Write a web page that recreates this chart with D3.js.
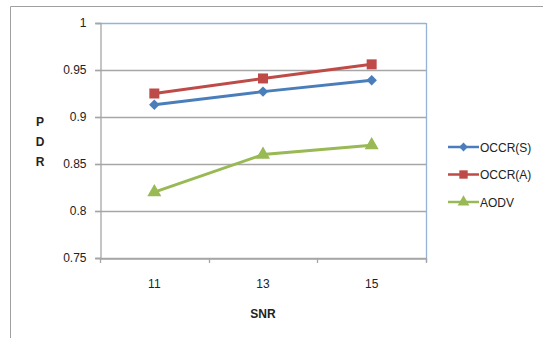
<!DOCTYPE html>
<html>
<head>
<meta charset="utf-8">
<script src="https://cdn.jsdelivr.net/npm/d3@7"></script>
<style>
  body { margin: 0; background: #fff; }
  svg { display: block; font-family: "Liberation Sans", Arial, sans-serif; }
</style>
</head>
<body>
<svg id="chart" width="543" height="338"></svg>
<script>
// data
const snr = ["11", "13", "15"];
const occrS = [0.913, 0.927, 0.939];
const occrA = [0.925, 0.941, 0.956];
const aodv = [0.82, 0.86, 0.87];
const yTicks = [0.75, 0.8, 0.85, 0.9, 0.95, 1];

const series = [
    { name: "OCCR(S)", values: occrS, color: "#4a7ebb", shape: "diamond" },
    { name: "OCCR(A)", values: occrA, color: "#be4b48", shape: "square" },
    { name: "AODV", values: aodv, color: "#98b954", shape: "triangle" }
];

// marker shape -> symbol generator, diamond drawn as a rotated square
function marker(shape, scale) {
    if (shape === "square") return { d: d3.symbol().type(d3.symbolSquare).size(100 * scale)(), rot: 0 };
    if (shape === "diamond") return { d: d3.symbol().type(d3.symbolSquare).size(55 * scale)(), rot: 45 };
    return { d: d3.symbol().type(d3.symbolTriangle).size(85 * scale)(), rot: 0 };
}

const svg = d3.select("#chart");

// outer chart frame (left + top visible)
svg.append("path")
    .attr("d", "M10.5,338 V6.5 H543")
    .attr("fill", "none")
    .attr("stroke", "#a0a0a0")
    .attr("stroke-width", 1);

const plot = { left: 100, top: 23, right: 426, bottom: 258 };

const xScale = d3.scaleBand()
    .domain(snr)
    .range([plot.left, plot.right]);

const yScale = d3.scaleLinear()
    .domain([0.75, 1])
    .range([plot.bottom, plot.top]);

// gridlines
svg.append("g")
    .selectAll("line")
    .data(yTicks)
    .enter()
    .append("line")
    .attr("x1", plot.left - 5)
    .attr("x2", plot.right)
    .attr("y1", d => Math.round(yScale(d)) + 0.5)
    .attr("y2", d => Math.round(yScale(d)) + 0.5)
    .attr("stroke", d => d === 1 ? "#95b3d7" : "#a6a6a6")
    .attr("stroke-width", 1.3);

// plot area right border
svg.append("line")
    .attr("x1", plot.right + 0.5).attr("x2", plot.right + 0.5)
    .attr("y1", plot.top).attr("y2", plot.bottom + 4)
    .attr("stroke", "#95b3d7")
    .attr("stroke-width", 1.3);

// y axis
const yAxis = svg.append("g")
    .attr("transform", `translate(${plot.left + 0.5},0)`)
    .call(d3.axisLeft(yScale).tickValues(yTicks).tickSize(5).tickFormat(d => String(+d.toFixed(2))));
yAxis.select(".domain").attr("stroke", "#a6a6a6").attr("stroke-width", 1.3);
yAxis.selectAll(".tick line").attr("stroke", "#a6a6a6").attr("stroke-width", 1.3);
yAxis.selectAll(".tick text")
    .attr("x", -14)
    .style("font-size", "12px")
    .style("fill", "#222");

// x axis
const xAxis = svg.append("g")
    .attr("transform", `translate(0,${plot.bottom + 0.5})`)
    .call(d3.axisBottom(xScale).tickSize(0));
xAxis.select(".domain").attr("stroke", "#a6a6a6").attr("stroke-width", 1.3);
xAxis.selectAll(".tick text")
    .attr("dy", 0)
    .attr("y", 29)
    .style("font-size", "12px")
    .style("fill", "#222");

// category separator ticks
const sepTicks = snr.map(d => xScale(d)).concat([plot.right]);
svg.append("g")
    .selectAll("line")
    .data(sepTicks)
    .enter()
    .append("line")
    .attr("x1", d => Math.round(d) + 0.5)
    .attr("x2", d => Math.round(d) + 0.5)
    .attr("y1", plot.bottom)
    .attr("y2", plot.bottom + 5)
    .attr("stroke", "#a6a6a6")
    .attr("stroke-width", 1.3);

// lines and markers
const line = d3.line()
    .x((d, i) => xScale(snr[i]) + xScale.bandwidth() / 2)
    .y(d => yScale(d));

series.forEach(s => {
    svg.append("path")
        .datum(s.values)
        .attr("d", line)
        .attr("fill", "none")
        .attr("stroke", s.color)
        .attr("stroke-width", 3);

    const m = marker(s.shape, 1);
    svg.append("g")
        .selectAll("path")
        .data(s.values)
        .enter()
        .append("path")
        .attr("transform", (d, i) => `translate(${xScale(snr[i]) + xScale.bandwidth() / 2},${yScale(d)}) rotate(${m.rot})`)
        .attr("d", m.d)
        .attr("fill", s.color);
});

// axis titles
["P", "D", "R"].forEach((ch, i) => {
    svg.append("text")
        .attr("x", 40)
        .attr("y", 126 + i * 20)
        .attr("text-anchor", "middle")
        .style("font-weight", "bold")
        .style("font-size", "12px")
        .style("fill", "#222")
        .text(ch);
});

svg.append("text")
    .attr("x", (plot.left + plot.right) / 2)
    .attr("y", 318)
    .attr("text-anchor", "middle")
    .style("font-weight", "bold")
    .style("font-size", "12px")
    .style("fill", "#222")
    .text("SNR");

// legend
const legend = svg.append("g")
    .attr("transform", "translate(448,147)");

series.forEach((s, i) => {
    const row = legend.append("g").attr("transform", `translate(0,${i * 27.5})`);
    row.append("line")
        .attr("x1", 0).attr("x2", 31)
        .attr("y1", 0).attr("y2", 0)
        .attr("stroke", s.color)
        .attr("stroke-width", 2.5);
    const m = marker(s.shape, 0.7);
    row.append("path")
        .attr("transform", `translate(15.5,0) rotate(${m.rot})`)
        .attr("d", m.d)
        .attr("fill", s.color);
    row.append("text")
        .attr("x", 32)
        .attr("y", 4.5)
        .style("font-size", "12px")
        .style("fill", "#222")
        .text(s.name);
});
</script>
</body>
</html>
